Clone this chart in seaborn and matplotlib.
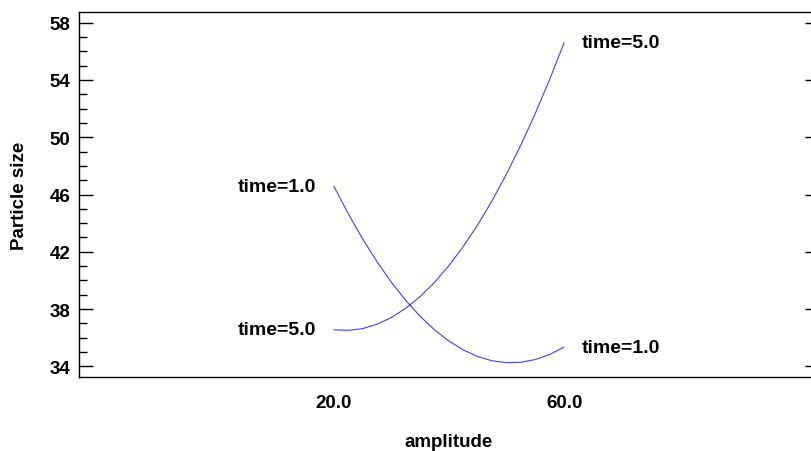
import numpy as np
import pandas as pd
import matplotlib
matplotlib.use("Agg")
import matplotlib.pyplot as plt
from matplotlib.ticker import MultipleLocator, FixedLocator, FormatStrFormatter
import seaborn as sns

# Interaction plot: particle size vs amplitude at two time levels
amplitude = [20, 22.5, 25, 27.5, 30, 32.5, 35, 37.5, 40,
             42.5, 45, 47.5, 50, 52.5, 55, 57.5, 60]
size_time1 = [46.57, 44.65, 42.89, 41.30, 39.86, 38.59, 37.49, 36.54, 35.76,
              35.14, 34.68, 34.38, 34.25, 34.28, 34.47, 34.82, 35.34]
size_time5 = [36.55, 36.51, 36.63, 36.94, 37.41, 38.06, 38.88, 39.87, 41.04,
              42.38, 43.89, 45.58, 47.43, 49.47, 51.67, 54.05, 56.60]
time_levels = ["time=1.0", "time=5.0"]
x_ticks = [20.0, 60.0]
y_ticks = [34, 38, 42, 46, 50, 54, 58]

df = pd.DataFrame({
    "amplitude": amplitude * 2,
    "size": size_time1 + size_time5,
    "time": [time_levels[0]] * len(amplitude) + [time_levels[1]] * len(amplitude),
})

sns.set_theme(style="white")
plt.rcParams["font.family"] = ["Liberation Sans", "DejaVu Sans"]
plt.rcParams["font.weight"] = "bold"

fig = plt.figure(figsize=(8.11, 4.52), dpi=100)
ax = fig.add_axes([79 / 811, 1 - 378 / 452, 740 / 811, 365 / 452])

sns.lineplot(data=df, x="amplitude", y="size", hue="time",
             palette=["#0000ff", "#0000ff"], linewidth=0.8, legend=False,
             ax=ax, alpha=0.75)

ax.set_xlim(-24.3, 104.3)
ax.set_ylim(33.25, 58.75)

ax.xaxis.set_major_locator(FixedLocator(x_ticks))
ax.xaxis.set_major_formatter(FormatStrFormatter("%.1f"))
ax.yaxis.set_major_locator(FixedLocator(y_ticks))
ax.yaxis.set_minor_locator(MultipleLocator(1))

ax.tick_params(axis="x", length=0, pad=12, labelsize=13.5)
ax.tick_params(axis="y", which="major", direction="in", length=10, width=1,
               color="black", left=True, right=True, pad=6, labelsize=13.5)
ax.tick_params(axis="y", which="minor", direction="in", length=5.8, width=1,
               color="black", left=True, right=True)
for lab in ax.get_xticklabels() + ax.get_yticklabels():
    lab.set_fontweight("bold")
    lab.set_color("black")

for sp in ax.spines.values():
    sp.set_visible(True)
    sp.set_color("black")
    sp.set_linewidth(1.0)

ax.set_xlabel("amplitude", fontsize=13.5, fontweight="bold", color="black", labelpad=16)
ax.set_ylabel("Particle size", fontsize=13.5, fontweight="bold", color="black", labelpad=16)

# Level labels at both ends of each curve
for name, ys in zip(time_levels, [size_time1, size_time5]):
    ax.annotate(name, (amplitude[0], ys[0]), xytext=(-12.5, 0),
                textcoords="offset points", ha="right", va="center",
                fontsize=14, fontweight="bold", color="black")
    ax.annotate(name, (amplitude[-1], ys[-1]), xytext=(12.5, 0),
                textcoords="offset points", ha="left", va="center",
                fontsize=14, fontweight="bold", color="black")

fig.savefig("out.png", dpi=100)
